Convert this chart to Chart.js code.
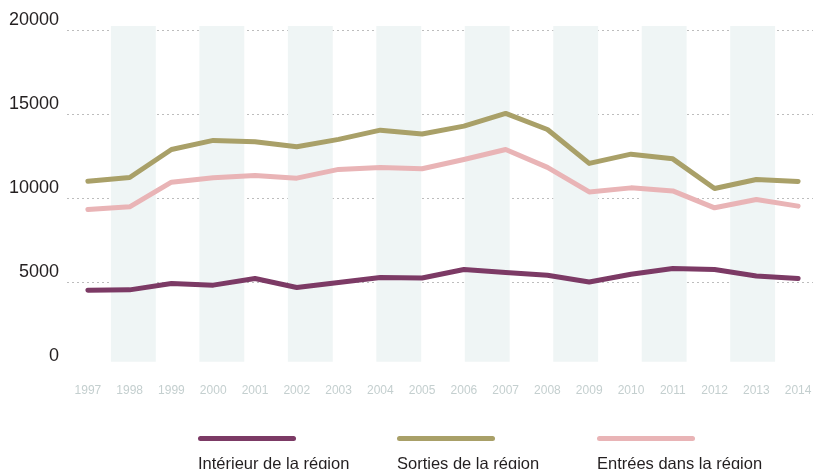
<!DOCTYPE html>
<html lang="fr">
<head>
<meta charset="UTF-8">
<title>Flux dans la région</title>
<script src="https://cdn.jsdelivr.net/npm/chart.js"></script>
<style>
    body { margin: 0; background: #fff; overflow: hidden; }
    /* un peu plus large que la fenêtre : la dernière bande dépasse à droite */
    .chartBox { position: relative; width: 819px; height: 397px; }
    .legendBox { position: absolute; top: 0; left: 0; width: 813px; height: 469px; pointer-events: none; }
    .legendItem { position: absolute; top: 436px; font-family: "Liberation Sans", sans-serif; font-size: 16.5px; color: #231f20; white-space: nowrap; }
    .legendItem .swatch { width: 98px; height: 5px; border-radius: 3px; margin-bottom: 13px; }
</style>
</head>
<body>
<div class="chartBox">
    <canvas id="fluxChart"></canvas>
</div>
<div class="legendBox" id="legend"></div>

<script>
    // données
    const years = ['1997', '1998', '1999', '2000', '2001', '2002', '2003', '2004', '2005',
                   '2006', '2007', '2008', '2009', '2010', '2011', '2012', '2013', '2014'];
    const interieur = [4520, 4540, 4920, 4820, 5220, 4680, 4980, 5270, 5250,
                       5750, 5570, 5410, 5010, 5470, 5810, 5750, 5370, 5210];
    const sorties = [11020, 11240, 12910, 13450, 13370, 13070, 13510, 14060, 13830,
                     14300, 15060, 14100, 12080, 12630, 12350, 10580, 11120, 11000];
    const entrees = [9330, 9490, 10960, 11220, 11360, 11200, 11720, 11840, 11760,
                     12310, 12910, 11840, 10380, 10620, 10440, 9430, 9930, 9530];
    const yTicks = [0, 5000, 10000, 15000, 20000];
    const seriesNames = ['Intérieur de la région', 'Sorties de la région', 'Entrées dans la région'];
    const seriesColors = ['#7c3a65', '#a9a068', '#e9b4b6'];

    // bandes de fond : une case sur deux
    const bandSlots = ['a', 'b', 'c', 'd', 'e', 'f', 'g', 'h', 'i', 'j', 'k', 'l', 'm', 'n', 'o', 'p', 'q'];
    const bandRange = [280, 20270];
    const bands = bandSlots.map((s, i) => i % 2 === 1 ? bandRange : null);

    const lineStyle = {
        type: 'line', xAxisID: 'x', borderWidth: 5, pointRadius: 0, tension: 0,
        borderCapStyle: 'round', borderJoinStyle: 'round', fill: false
    };

    const ctx = document.getElementById('fluxChart').getContext('2d');
    const chart = new Chart(ctx, {
        data: {
            labels: years,
            datasets: [
                Object.assign({}, lineStyle, { label: seriesNames[0], data: interieur, borderColor: seriesColors[0], order: 1 }),
                Object.assign({}, lineStyle, { label: seriesNames[1], data: sorties, borderColor: seriesColors[1], order: 2 }),
                Object.assign({}, lineStyle, { label: seriesNames[2], data: entrees, borderColor: seriesColors[2], order: 3 }),
                {
                    type: 'bar', label: 'bandes', xAxisID: 'xb', data: bands,
                    backgroundColor: '#eff5f5', borderWidth: 0, grouped: false,
                    categoryPercentage: 1, barPercentage: 1, order: 10
                }
            ]
        },
        options: {
            responsive: true,
            maintainAspectRatio: false,
            animation: false,
            layout: { padding: { top: 26, right: 0, left: 0, bottom: 0 } },
            plugins: { legend: { display: false }, tooltip: { enabled: false } },
            scales: {
                x: {
                    type: 'category', offset: true,
                    afterFit: scale => {
                        scale.height = 31;
                        scale.paddingLeft = 0;
                        scale.paddingRight = 0;
                    },
                    grid: { display: false, drawTicks: false },
                    border: { display: false },
                    ticks: { color: '#c4cfcf', padding: 17, maxRotation: 0, autoSkip: false,
                             font: { family: 'Liberation Sans', size: 12 } }
                },
                xb: { type: 'category', labels: bandSlots, offset: true, display: false },
                y: {
                    min: 0, max: 20270,
                    afterBuildTicks: scale => { scale.ticks = yTicks.map(v => ({ value: v })); },
                    afterFit: scale => { scale.width = 67; },
                    grid: { drawTicks: false,
                            color: c => (c.tick && c.tick.value > 0) ? '#bdbdbd' : 'rgba(0,0,0,0)' },
                    border: { display: false, dash: [2, 3] },
                    ticks: { padding: 8, labelOffset: -10, color: '#231f20',
                             callback: v => String(v),
                             font: { family: 'Liberation Sans', size: 18 } }
                }
            }
        }
    });

    // légende sous le graphique
    const legendLeft = [198, 397, 597];
    const legendEl = document.getElementById('legend');
    chart.data.datasets.slice(0, 3).forEach((ds, i) => {
        const item = document.createElement('div');
        item.className = 'legendItem';
        item.style.left = legendLeft[i] + 'px';
        item.innerHTML = '<div class="swatch" style="background:' + ds.borderColor + '"></div>' + ds.label;
        legendEl.appendChild(item);
    });
</script>
</body>
</html>
